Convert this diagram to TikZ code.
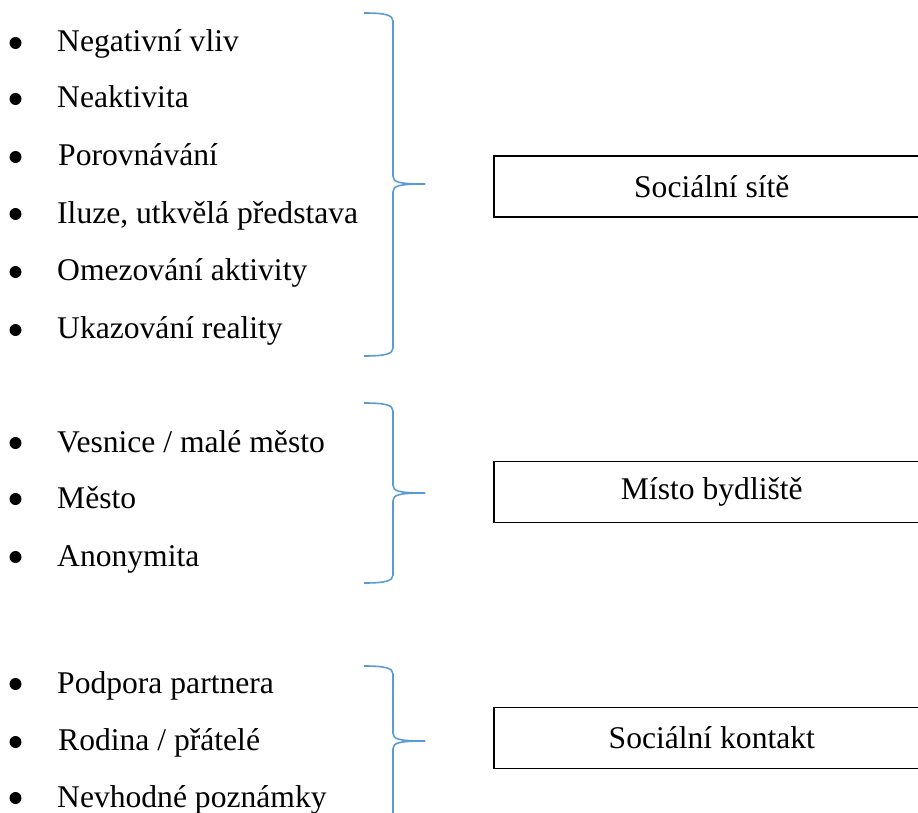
\documentclass[tikz,border=0pt]{standalone}
\usepackage{fontspec}
\setmainfont{Liberation Serif}
\definecolor{braceblue}{RGB}{91,155,213}

\begin{document}
\begin{tikzpicture}[x=1pt, y=-1pt,
        every node/.append style={font=\fontsize{31.6}{38}\selectfont},
        item/.style={anchor=base west, inner sep=0pt},
        dot/.style={circle, fill=black, inner sep=0pt, minimum size=12pt},
        catbox/.style={draw=black, line width=1.6pt, anchor=west, minimum width=436pt, minimum height=61pt, inner sep=0pt},
        brace/.style={draw=braceblue, line width=1.6pt}
    ]
        \useasboundingbox (0,0) rectangle (918,813);
        \node[item] (neg) at (57,52)  {Negativní vliv};
        \node[item] (neak) at (57,108) {Neaktivita};
        \node[item] (por) at (58,166) {Porovnávání};
        \node[item] (ilu) at (57,223) {Iluze, utkvělá představa};
        \node[item] (ome) at (57,280) {Omezování aktivity};
        \node[item] (uka) at (57,338) {Ukazování reality};
        \node[item] (ves) at (57,452) {Vesnice / malé město};
        \node[item] (mes) at (57,508) {Město};
        \node[item] (ano) at (57,566) {Anonymita};
        \node[item] (pod) at (57,693) {Podpora partnera};
        \node[item] (rod) at (58,750) {Rodina / přátelé};
        \node[item] (nev) at (57,807) {Nevhodné poznámky};
        \foreach \y [count=\i] in {43,99,157,214,272,330,443,499,557,684,742,798}
            \node[dot] (d\i) at (15.5,\y) {};
        \node[catbox] (site) at (493,186.5) {Sociální sítě};
        \node[catbox] (misto) at (493,492) {Místo bydliště};
        \node[catbox] (kontakt) at (493,738) {Sociální kontakt};
        \foreach \t/\m/\b [count=\i] in {13/184/356, 403/493/583, 666/741/830} {
            \coordinate (tip\i) at (425,\m);
            \draw[brace] (364,\t) .. controls (385,\t) and (393,\t+2) .. (393,\t+8)
                -- (393,\m-8) .. controls (393,\m-2) and (398,\m) .. (tip\i);
            \draw[brace] (tip\i) .. controls (398,\m) and (393,\m+2) .. (393,\m+8)
                -- (393,\b-8) .. controls (393,\b-2) and (385,\b) .. (364,\b);
        }
    \end{tikzpicture}
\end{document}
